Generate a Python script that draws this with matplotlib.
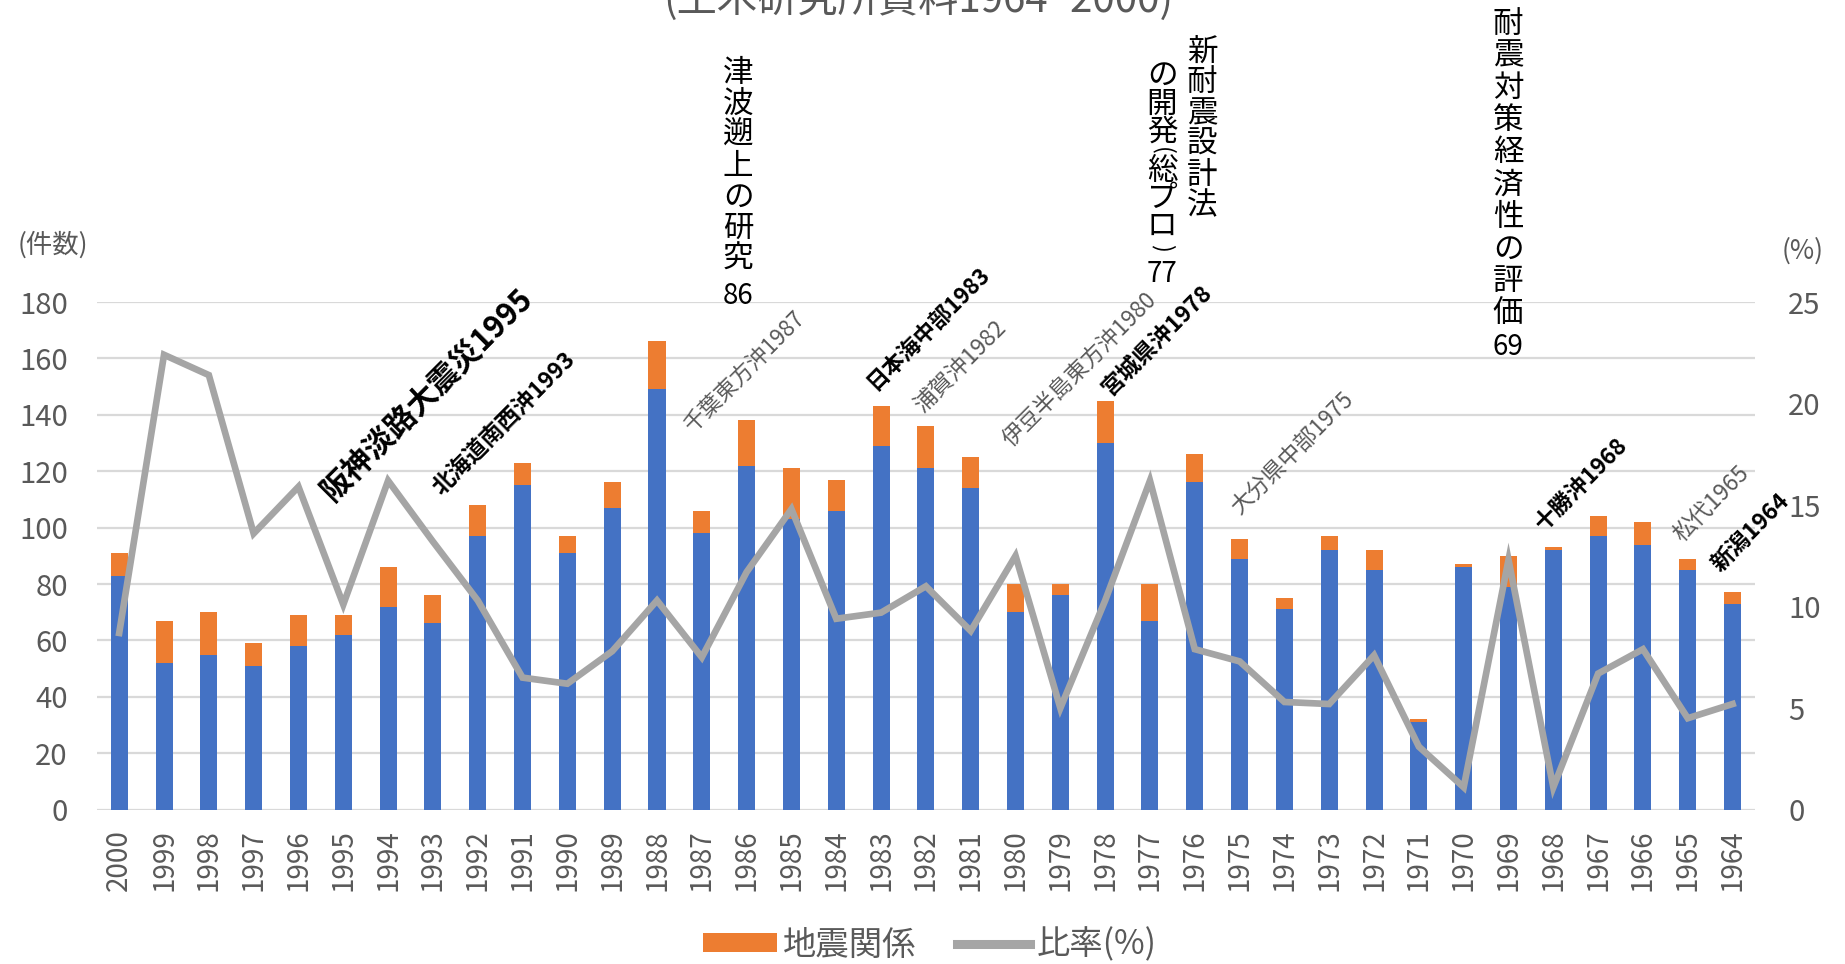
import matplotlib
matplotlib.use("Agg")
import matplotlib.pyplot as plt
from matplotlib.patches import Patch
from matplotlib.lines import Line2D

plt.rcParams['font.family'] = ['Noto Sans CJK JP', 'DejaVu Sans']

# ---- data ----
years = ["2000", "1999", "1998", "1997", "1996", "1995", "1994", "1993", "1992", "1991",
         "1990", "1989", "1988", "1987", "1986", "1985", "1984", "1983", "1982", "1981",
         "1980", "1979", "1978", "1977", "1976", "1975", "1974", "1973", "1972", "1971",
         "1970", "1969", "1968", "1967", "1966", "1965", "1964"]
other = [83, 52, 55, 51, 58, 62, 72, 66, 97, 115,
         91, 107, 149, 98, 122, 103, 106, 129, 121, 114,
         70, 76, 130, 67, 116, 89, 71, 92, 85, 31,
         86, 79, 92, 97, 94, 85, 73]
quake = [8, 15, 15, 8, 11, 7, 14, 10, 11, 8,
         6, 9, 17, 8, 16, 18, 11, 14, 15, 11,
         10, 4, 15, 13, 10, 7, 4, 5, 7, 1,
         1, 11, 1, 7, 8, 4, 4]
ratio = [8.7, 22.4, 21.4, 13.6, 15.9, 10.1, 16.2, 13.2, 10.3, 6.5,
         6.2, 7.8, 10.3, 7.5, 11.7, 14.8, 9.4, 9.7, 11.0, 8.8,
         12.5, 5.0, 10.3, 16.2, 7.9, 7.3, 5.3, 5.2, 7.6, 3.1,
         1.1, 12.3, 1.1, 6.7, 7.9, 4.5, 5.2]
left_ticks = list(range(0, 181, 20))
right_ticks = list(range(0, 26, 5))

quake_events = [("阪神淡路大震災1995", True), ("北海道南西沖1993", True), ("千葉東方沖1987", False),
                ("日本海中部1983", True), ("浦賀沖1982", False), ("伊豆半島東方沖1980", False),
                ("宮城県沖1978", True), ("大分県中部1975", False), ("十勝沖1968", True),
                ("松代1965", False), ("新潟1964", True)]
research = [(["津", "波", "遡", "上", "の", "研", "究"], "86"),
            (["新", "耐", "震", "設", "計", "法"], None),
            (["の", "開", "発", "(", "総", "プ", "ロ", ")"], "77"),
            (["耐", "震", "対", "策", "経", "済", "性", "の", "評", "価"], "69")]

BLUE = "#4472C4"
ORANGE = "#ED7D31"
LGRAY = "#A5A5A5"
TXT = "#595959"

W, H = 1845, 964
fig = plt.figure(figsize=(W / 100, H / 100), dpi=100)
ax = fig.add_axes([96.8 / W, 1 - 809.6 / H, (1755 - 96.8) / W, (809.6 - 302) / H])
ax2 = ax.twinx()

x = list(range(len(years)))
ax.bar(x, other, width=0.38, color=BLUE, zorder=2)
ax.bar(x, quake, width=0.38, bottom=other, color=ORANGE, zorder=2)
ax2.plot(x, ratio, color=LGRAY, lw=4.8, solid_joinstyle='miter', zorder=3)

ax.set_xlim(-0.5, len(years) - 0.5)
ax.set_ylim(0, 180)
ax2.set_ylim(0, 25)
ax.set_yticks(left_ticks)
ax2.set_yticks(right_ticks)
ax.set_xticks(x)
ax.set_xticklabels(years, rotation=90)
ax.grid(axis='y', color='#D9D9D9', lw=1.6, zorder=0)
ax.set_axisbelow(True)
for a in (ax, ax2):
    for s in a.spines.values():
        s.set_visible(False)
ax.tick_params(axis='y', length=0, pad=21, labelsize=21, labelcolor=TXT)
ax.tick_params(axis='x', length=0, pad=14, labelsize=20, labelcolor=TXT)
ax2.tick_params(axis='y', length=0, pad=24, labelsize=21, labelcolor=TXT)


def ftext(px, py, s, **kw):
    return fig.text(px / W, 1 - py / H, s, **kw)


# axis unit labels
ftext(53, 245, "(件数)", ha='center', va='center', fontsize=19, color=TXT)
ftext(1803, 251, "(%)", ha='center', va='center', fontsize=19, color=TXT)

# clipped subtitle at the very top
ftext(918, 12, "(土木研究所資料1964~2000)", ha='center', va='baseline', fontsize=29, color=TXT)

# rotated earthquake labels (anchor at start, pixel coords)
anchors = [(338, 507, 22), (445, 500, 16.5), (697, 437, 16), (879, 394, 16), (926, 417, 16.5),
           (1015, 451, 16.2), (1114, 401, 16.5), (1243, 519, 16.2), (1547, 535, 16.2),
           (1685, 546, 16.5), (1724, 576, 16.5)]
for (label, bold), (px, py, fs) in zip(quake_events, anchors):
    ftext(px, py, label, rotation=45, rotation_mode='anchor', ha='left', va='bottom',
          fontsize=fs, fontweight='bold' if bold else 'normal',
          color='black' if bold else TXT)

# vertical research annotations
cols = [(738, 74, 30.8), (1202, 52, 30.8), (1162, 75, 0), (1508, 24, 32.2)]
for (chars, num), (cx, y0, pitch) in zip(research, cols):
    if pitch == 0:
        ys = [75, 104, 132, 151, 172, 199, 226, 248]
    else:
        ys = [y0 + i * pitch for i in range(len(chars))]
    for ch, yy in zip(chars, ys):
        if ch in "()":
            ftext(cx, yy, ch, ha='center', va='center', fontsize=17, color='black',
                  rotation=-90, rotation_mode='anchor')
        else:
            ftext(cx, yy, ch, ha='center', va='center', fontsize=22, color='black')
    if num is not None:
        ny = {"86": 296, "77": 274, "69": 347}[num]
        ftext(cx, ny, num, ha='center', va='center', fontsize=20, color='black')

# legend
handles = [Patch(facecolor=ORANGE, edgecolor='none'),
           Line2D([0], [0], color=LGRAY, lw=6.5)]
leg = fig.legend(handles, ["地震関係", "比率(%)"], loc='center', ncol=2,
                 bbox_to_anchor=(930 / W, 1 - 945 / H), frameon=False, fontsize=24,
                 handlelength=2.2, handleheight=0.5, handletextpad=0.2, columnspacing=1.2)
for t in leg.get_texts():
    t.set_color(TXT)

fig.savefig("out.png", dpi=100)
